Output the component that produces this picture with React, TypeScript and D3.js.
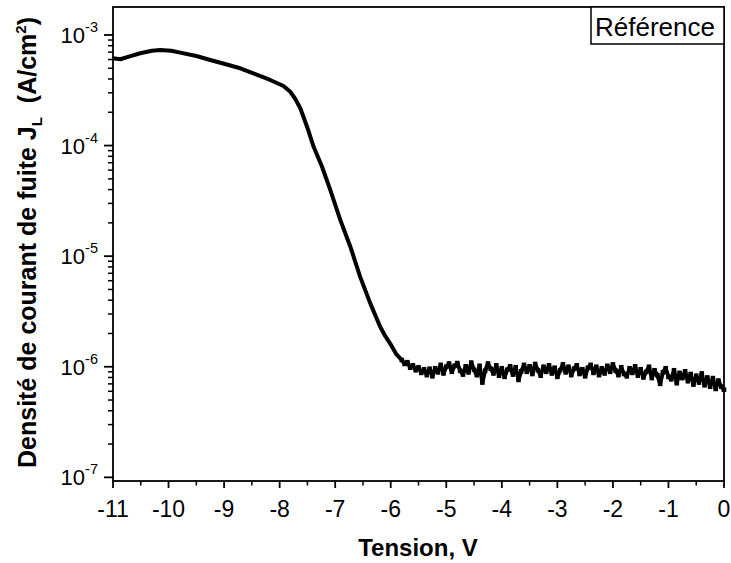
import React from 'react';
import * as d3 from 'd3';

// J-V leakage curve (V, A/cm²)
const plateauPoints: [number, number][] = [
  [-11.0, 6.15e-4], [-10.87, 6.03e-4], [-10.7, 6.4e-4], [-10.51, 6.84e-4],
  [-10.3, 7.2e-4], [-10.15, 7.32e-4], [-9.95, 7.2e-4], [-9.79, 6.92e-4],
  [-9.5, 6.45e-4], [-9.25, 5.94e-4], [-9.0, 5.5e-4], [-8.71, 5.0e-4],
  [-8.45, 4.45e-4], [-8.17, 3.92e-4], [-7.93, 3.46e-4],
];

const dropPoints: [number, number][] = [
  [-7.81, 3.07e-4], [-7.72, 2.65e-4], [-7.63, 2.19e-4], [-7.5, 1.45e-4],
  [-7.39, 9.8e-5], [-7.24, 6.5e-5], [-7.09, 4.0e-5], [-6.91, 2.14e-5],
  [-6.73, 1.23e-5], [-6.55, 6.5e-6], [-6.37, 3.76e-6], [-6.19, 2.3e-6],
  [-6.1, 1.9e-6], [-6.01, 1.62e-6], [-5.9, 1.3e-6],
];

// noisy floor around 1e-6
const floorPoints: [number, number][] = [
  [-5.80, 1.15e-6], [-5.75, 1.06e-6], [-5.70, 1.10e-6], [-5.65, 0.98e-6],
  [-5.60, 1.03e-6], [-5.55, 0.93e-6], [-5.50, 0.99e-6], [-5.45, 0.88e-6],
  [-5.40, 0.95e-6], [-5.35, 0.84e-6], [-5.30, 0.96e-6], [-5.25, 0.82e-6],
  [-5.20, 0.97e-6], [-5.15, 0.89e-6], [-5.10, 1.04e-6], [-5.05, 0.87e-6],
  [-5.00, 1.00e-6], [-4.95, 1.07e-6], [-4.90, 0.90e-6], [-4.85, 1.02e-6],
  [-4.80, 1.08e-6], [-4.75, 0.92e-6], [-4.70, 0.85e-6], [-4.65, 1.01e-6],
  [-4.60, 0.89e-6], [-4.55, 1.09e-6], [-4.50, 0.94e-6], [-4.45, 0.84e-6],
  [-4.40, 1.02e-6], [-4.35, 0.72e-6], [-4.30, 0.92e-6], [-4.25, 1.07e-6],
  [-4.20, 0.96e-6], [-4.15, 0.87e-6], [-4.10, 1.03e-6], [-4.05, 0.83e-6],
  [-4.00, 0.97e-6], [-3.95, 0.81e-6], [-3.90, 0.94e-6], [-3.85, 1.01e-6],
  [-3.80, 0.85e-6], [-3.75, 0.99e-6], [-3.70, 0.76e-6], [-3.65, 0.91e-6],
  [-3.60, 1.04e-6], [-3.55, 0.90e-6], [-3.50, 1.01e-6], [-3.45, 0.86e-6],
  [-3.40, 1.06e-6], [-3.35, 0.93e-6], [-3.30, 0.83e-6], [-3.25, 1.00e-6],
  [-3.20, 0.90e-6], [-3.15, 1.03e-6], [-3.10, 0.87e-6], [-3.05, 0.98e-6],
  [-3.00, 0.81e-6], [-2.95, 0.93e-6], [-2.90, 1.05e-6], [-2.85, 0.89e-6],
  [-2.80, 1.00e-6], [-2.75, 0.84e-6], [-2.70, 0.96e-6], [-2.65, 1.03e-6],
  [-2.60, 0.86e-6], [-2.55, 0.95e-6], [-2.50, 0.82e-6], [-2.45, 0.98e-6],
  [-2.40, 1.04e-6], [-2.35, 0.88e-6], [-2.30, 1.00e-6], [-2.25, 0.84e-6],
  [-2.20, 0.97e-6], [-2.15, 0.87e-6], [-2.10, 1.02e-6], [-2.05, 0.90e-6],
  [-2.00, 1.05e-6], [-1.95, 0.92e-6], [-1.90, 0.84e-6], [-1.85, 0.99e-6],
  [-1.80, 0.86e-6], [-1.75, 0.82e-6], [-1.70, 0.97e-6], [-1.65, 0.88e-6],
  [-1.60, 1.01e-6], [-1.55, 0.83e-6], [-1.50, 0.95e-6], [-1.45, 0.80e-6],
  [-1.40, 0.90e-6], [-1.35, 1.00e-6], [-1.30, 0.79e-6], [-1.25, 0.93e-6],
  [-1.20, 0.84e-6], [-1.15, 0.70e-6], [-1.10, 0.89e-6], [-1.05, 0.97e-6],
  [-1.00, 0.81e-6], [-0.95, 0.77e-6], [-0.90, 0.93e-6], [-0.85, 0.71e-6],
  [-0.80, 0.88e-6], [-0.75, 0.79e-6], [-0.70, 0.91e-6], [-0.65, 0.74e-6],
  [-0.60, 0.86e-6], [-0.55, 0.69e-6], [-0.50, 0.83e-6], [-0.45, 0.72e-6],
  [-0.40, 0.87e-6], [-0.35, 0.68e-6], [-0.30, 0.80e-6], [-0.25, 0.66e-6],
  [-0.20, 0.79e-6], [-0.15, 0.63e-6], [-0.10, 0.75e-6], [-0.05, 0.66e-6],
  [0.00, 0.62e-6],
];

const xTicks = [-11, -10, -9, -8, -7, -6, -5, -4, -3, -2, -1, 0];
const yExponents = [-3, -4, -5, -6, -7];
const legendLabel = 'Référence';

const W = 731;
const H = 563;
const plot = { left: 113, right: 724, top: 7, bottom: 481 };
const font = '"Liberation Sans", Arial, sans-serif';

const App: React.FC = () => {
  const x = d3.scaleLinear().domain([-11, 0]).range([plot.left, plot.right]);
  const y = d3.scaleLog()
    .domain([Math.pow(10, -7.033), Math.pow(10, -2.747)])
    .range([plot.bottom, plot.top]);

  const all = [...plateauPoints, ...dropPoints, ...floorPoints];
  const line = d3.line<[number, number]>()
    .x(d => x(d[0]))
    .y(d => y(d[1]));

  const [y0, y1] = y.domain();
  const minorY: number[] = [];
  for (let e = -8; e <= -3; e++) {
    for (let m = 2; m <= 9; m++) {
      const v = m * Math.pow(10, e);
      if (v > y0 && v < y1) minorY.push(v);
    }
  }
  const minorX = d3.range(-10.5, 0, 1);

  return (
    <svg width={W} height={H} style={{ position: 'absolute', left: 0, top: 0, background: '#fff' }}
      fontFamily={font}>
      {/* data */}
      <path d={line(all) || ''} fill="none" stroke="#000" strokeWidth={4} strokeLinejoin="round" />
      {floorPoints.map((d, i) => (
        <rect key={i} x={x(d[0]) - 2.3} y={y(d[1]) - 2.3} width={4.6} height={4.6} fill="#000" />
      ))}

      {/* frame */}
      <rect x={plot.left} y={plot.top} width={plot.right - plot.left} height={plot.bottom - plot.top}
        fill="none" stroke="#000" strokeWidth={1.8} />

      {/* x axis */}
      {xTicks.map(t => (
        <g key={t}>
          <line x1={x(t)} x2={x(t)} y1={plot.bottom} y2={plot.bottom + 7} stroke="#000" strokeWidth={1.8} />
          <text x={x(t)} y={517} textAnchor="middle" fontSize={23}>{t}</text>
        </g>
      ))}
      {minorX.map(t => (
        <line key={t} x1={x(t)} x2={x(t)} y1={plot.bottom} y2={plot.bottom + 4.5} stroke="#000" strokeWidth={1.5} />
      ))}

      {/* y axis */}
      {yExponents.map(e => {
        const yy = y(Math.pow(10, e));
        return (
          <g key={e}>
            <line x1={plot.left - 9} x2={plot.left} y1={yy} y2={yy} stroke="#000" strokeWidth={1.8} />
            <text x={98} y={yy + 8} textAnchor="end" fontSize={22}>
              10<tspan dy={-11} fontSize={14.5}>{e}</tspan>
            </text>
          </g>
        );
      })}
      {minorY.map((v, i) => (
        <line key={i} x1={plot.left - 5} x2={plot.left} y1={y(v)} y2={y(v)} stroke="#000" strokeWidth={1.5} />
      ))}

      {/* axis titles */}
      <text x={418} y={556} textAnchor="middle" fontSize={24} fontWeight="bold">Tension, V</text>
      <text transform={`translate(36, ${(20 + 465) / 2}) rotate(-90)`} textAnchor="middle"
        fontSize={25} fontWeight="bold">
        Densité de courant de fuite J<tspan dy={6} fontSize={15}>L</tspan>
        <tspan dy={-6}>{'\u00a0\u00a0'}(A/cm</tspan>
        <tspan dy={-10} fontSize={15}>2</tspan>
        <tspan dy={10}>)</tspan>
      </text>

      {/* legend */}
      <rect x={591} y={7} width={133} height={37} fill="#fff" stroke="#000" strokeWidth={1.5} />
      <text x={595} y={36} fontSize={26}>{legendLabel}</text>
    </svg>
  );
};

export default App;
